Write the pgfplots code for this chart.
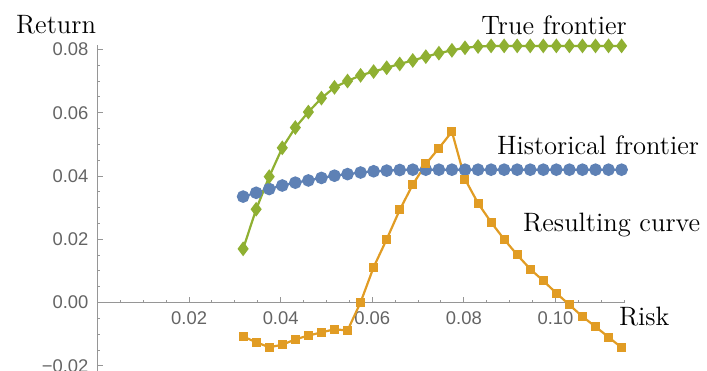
\documentclass[border=0pt]{standalone}
\usepackage{pgfplots}
\pgfplotsset{compat=1.18}
\usepackage{pgfplotstable}
\usepackage{fontspec}
\newfontfamily\ticksf{Liberation Sans}
\definecolor{mblue}{HTML}{5E81B5}
\definecolor{morange}{HTML}{E19C24}
\definecolor{mgreen}{HTML}{8FB032}
\definecolor{axgray}{RGB}{150,150,150}
\definecolor{lblgray}{RGB}{100,100,100}

\pgfplotstableread{
x        hist    result   truef
0.03180  0.0335  -0.0107  0.0170
0.03465  0.0347  -0.0125  0.0295
0.03750  0.0359  -0.0141  0.0398
0.04035  0.0370  -0.0133  0.0489
0.04320  0.0379  -0.0116  0.0553
0.04605  0.0386  -0.0104  0.0602
0.04890  0.0394  -0.0094  0.0646
0.05175  0.0401  -0.0084  0.0680
0.05460  0.0406  -0.0088  0.0700
0.05745  0.0411   0.0001  0.0718
0.06030  0.0415   0.0112  0.0730
0.06315  0.0417   0.0200  0.0742
0.06600  0.0419   0.0293  0.0754
0.06885  0.0420   0.0373  0.0765
0.07170  0.0420   0.0438  0.0777
0.07455  0.0420   0.0488  0.0788
0.07740  0.0420   0.0540  0.0797
0.08025  0.0420   0.0390  0.0805
0.08310  0.0420   0.0314  0.0809
0.08595  0.0420   0.0254  0.0811
0.08880  0.0420   0.0200  0.0811
0.09165  0.0420   0.0151  0.0811
0.09450  0.0420   0.0106  0.0811
0.09735  0.0420   0.0069  0.0811
0.10020  0.0420   0.0030  0.0811
0.10305  0.0420  -0.0007  0.0811
0.10590  0.0420  -0.0044  0.0811
0.10875  0.0420  -0.0076  0.0811
0.11160  0.0420  -0.0109  0.0811
0.11445  0.0420  -0.0142  0.0811
}\datatable

\begin{document}
\begin{tikzpicture}
\begin{axis}[
  scale only axis,
  width=263.35pt, height=162.9pt,
  xmin=0, xmax=0.115,
  ymin=-0.0215, ymax=0.0814,
  axis lines=middle,
  axis line style={-, draw=axgray, line width=0.6pt},
  clip=false,
  scaled x ticks=false,
  scaled y ticks=false,
  xtick={0.02,0.04,0.06,0.08,0.10},
  xticklabels={0.02,0.04,0.06,0.08,0.10},
  ytick={-0.02,0,0.02,0.04,0.06,0.08},
  yticklabels={−0.02,0.00,0.02,0.04,0.06,0.08},
  minor xtick={0.005,0.01,0.015,0.025,0.03,0.035,0.045,0.05,0.055,0.065,0.07,0.075,0.085,0.09,0.095,0.105,0.11,0.115},
  minor ytick={-0.015,-0.01,-0.005,0.005,0.01,0.015,0.025,0.03,0.035,0.045,0.05,0.055,0.065,0.07,0.075},
  hide obscured x ticks=false,
  hide obscured y ticks=false,
  tick align=inside,
  major tick length=2.6pt,
  minor tick length=1.5pt,
  every tick/.style={draw=axgray, line width=0.5pt},
  tick label style={font=\fontsize{9.2}{10}\ticksf, text=lblgray},
  xticklabel style={yshift=-1pt},
  yticklabel style={xshift=-1pt},
]
\addplot[mblue, line width=1.1pt, mark=*, mark size=2.6pt, mark options={fill=mblue, draw=mblue}]
  table[x=x, y=hist] {\datatable};
\addplot[morange, line width=1.1pt, mark=square*, mark size=1.7pt, mark options={fill=morange, draw=morange}]
  table[x=x, y=result] {\datatable};
\addplot[mgreen, line width=1.1pt, mark=diamond*, mark size=2.8pt, mark options={fill=mgreen, draw=mgreen}]
  table[x=x, y=truef] {\datatable};

\node[font=\fontsize{13.3}{16}\selectfont] at (axis cs:0.0997,0.0877) {True frontier};
\node[font=\fontsize{13.3}{16}\selectfont] at (axis cs:0.1093,0.0498) {Historical frontier};
\node[font=\fontsize{13.3}{16}\selectfont] at (axis cs:0.1123,0.0245) {Resulting curve};
\node[font=\fontsize{13.3}{16}\selectfont] at (axis cs:-0.00906,0.0877) {Return};
\node[font=\fontsize{13.3}{16}\selectfont] at (axis cs:0.1194,-0.0045) {Risk};

\coordinate (BL) at (axis cs:-0.02129,-0.02157);
\coordinate (TR) at (axis cs:0.1331,0.0956);
\end{axis}
\pgfresetboundingbox
\useasboundingbox (BL) rectangle (TR);
\end{tikzpicture}
\end{document}
